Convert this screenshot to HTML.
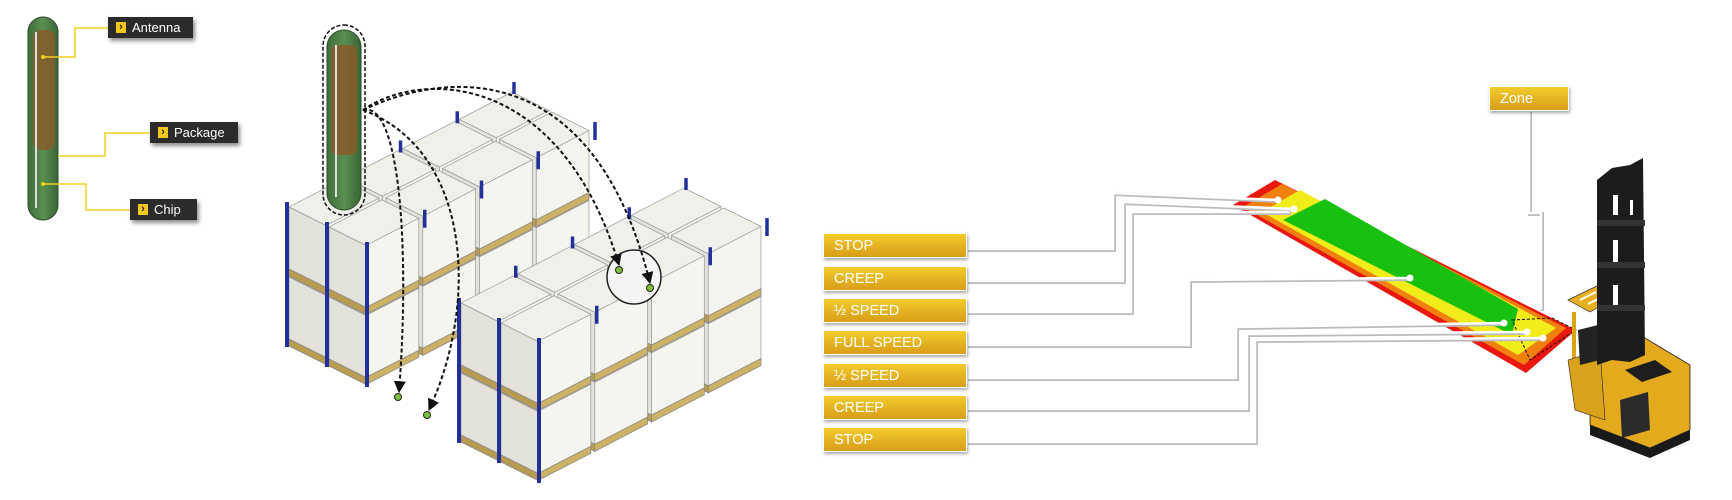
<!DOCTYPE html>
<html><head><meta charset="utf-8"><style>
body{margin:0;width:1732px;height:500px;background:#fff;overflow:hidden;font-family:"Liberation Sans",sans-serif;}
svg{position:absolute;left:0;top:0}
.dl{position:absolute;background:#2b2b2b;color:#fff;font-size:13px;height:21px;line-height:21px;box-shadow:2px 3px 4px rgba(0,0,0,.45);padding-left:24px;box-sizing:border-box}
.dl:before{content:"›";position:absolute;left:8px;top:5px;width:10px;height:11px;background:#f2c81c;color:#222;font-size:11px;line-height:10px;text-align:center;font-weight:bold}
.gl{position:absolute;left:823px;width:144px;height:25px;line-height:25px;color:#fff;font-size:14.5px;padding-left:10px;box-sizing:border-box;background:linear-gradient(#f2cc2c,#d99d1a);border:1px solid #fff;box-shadow:1px 2px 3px rgba(0,0,0,.35)}
</style></head><body>
<svg width="1732" height="500" viewBox="0 0 1732 500">
<defs>
<linearGradient id="tg" x1="0" x2="1"><stop offset="0" stop-color="#3f6e3a"/><stop offset=".5" stop-color="#5a8f52"/><stop offset="1" stop-color="#3a6535"/></linearGradient>
<marker id="ar" viewBox="0 0 10 10" refX="9" refY="5" markerWidth="6" markerHeight="6" orient="auto"><path d="M0,0 L10,5 L0,10 z" fill="#111"/></marker>
</defs>
<!-- left tube -->
<rect x="28" y="17" width="30" height="203" rx="15" fill="url(#tg)" stroke="#2e4a2a" stroke-width="1"/>
<rect x="33" y="30" width="22" height="120" rx="8" fill="#8a5a2a" opacity=".8"/>
<line x1="36" y1="32" x2="36" y2="208" stroke="#ddd" stroke-width="2"/>
<g stroke="#f2d21c" stroke-width="1.5" fill="none">
<polyline points="108,28 75,28 75,57 43,57"/>
<polyline points="150,133 105,133 105,156 58,156"/>
<polyline points="130,210 86,210 86,184 43,184"/>
</g>
<circle cx="43" cy="57" r="2" fill="#f2d21c"/><circle cx="43" cy="184" r="2" fill="#f2d21c"/>
<!-- racks -->
<g id="racks" stroke="#888" stroke-width="0.8"></g>
<!-- tube 2 -->
<rect x="323" y="25" width="42" height="190" rx="21" fill="none" stroke="#111" stroke-width="1.5" stroke-dasharray="4,2"/>
<rect x="327" y="30" width="34" height="180" rx="17" fill="url(#tg)" stroke="#2e4a2a"/>
<rect x="331" y="45" width="26" height="110" rx="6" fill="#8a5a2a" opacity=".85"/>
<line x1="336" y1="45" x2="336" y2="197" stroke="#ddd" stroke-width="2"/>
<!-- circle -->
<circle cx="634" cy="277" r="27" fill="#f4f4f4" stroke="#222" stroke-width="1.5"/>
<g fill="none" stroke="#111" stroke-width="2" stroke-dasharray="4,2.5" marker-end="url(#ar)">
<path d="M363,110 C420,70 560,70 619,265"/>
<path d="M363,110 C470,60 600,80 650,283"/>
<path d="M363,110 C400,100 410,250 399,392"/>
<path d="M363,110 C470,150 480,300 429,410"/>
</g>
<g fill="#7dc13a" stroke="#222"><circle cx="619" cy="270" r="3.5"/><circle cx="650" cy="288" r="3.5"/><circle cx="398" cy="397" r="3.5"/><circle cx="427" cy="415" r="3.5"/></g>
<!-- zone strip -->
<polygon points="1275,180 1233,205 1526,373 1576,330" fill="#e8180f"/>
<polygon points="1282,184 1243,207 1524,365 1566,328" fill="#f08010"/>
<polygon points="1300,190 1262,212 1518,355 1556,328" fill="#f2ec1a"/>
<polygon points="1325,199 1283,220 1512,335 1518,309" fill="#18c010"/>
<polygon points="1512,320 1552,318 1576,330 1530,360" fill="none" stroke="#111" stroke-dasharray="3,2"/>
<!-- connectors -->
<g fill="none" stroke="#bbb" stroke-width="4" transform="translate(1,1)">
<polyline points="967,249 1113,249 1113,193 1278,200"/><polyline points="967,281 1123,281 1123,202 1294,209"/><polyline points="967,312 1131,312 1131,212 1290,212"/><polyline points="967,345 1189,345 1189,280 1410,278"/><polyline points="967,378 1236,378 1236,327 1504,323"/><polyline points="967,409 1247,409 1247,334 1527,332"/><polyline points="967,442 1255,442 1255,340 1543,338"/><polyline points="1529,111 1529,213 1541,213 1541,310"/>
</g>
<g fill="none" stroke="#fff" stroke-width="2.5">
<polyline points="967,249 1113,249 1113,193 1278,200"/><polyline points="967,281 1123,281 1123,202 1294,209"/><polyline points="967,312 1131,312 1131,212 1290,212"/><polyline points="967,345 1189,345 1189,280 1410,278"/><polyline points="967,378 1236,378 1236,327 1504,323"/><polyline points="967,409 1247,409 1247,334 1527,332"/><polyline points="967,442 1255,442 1255,340 1543,338"/><polyline points="1529,111 1529,213 1541,213 1541,310"/>
</g>
<g fill="#fff"><circle cx="1278" cy="200" r="3.5"/><circle cx="1294" cy="209" r="3.5"/><circle cx="1410" cy="278" r="3.5"/><circle cx="1504" cy="323" r="3.5"/><circle cx="1527" cy="332" r="3.5"/><circle cx="1543" cy="338" r="3.5"/></g>
<!-- forklift -->
<polygon points="1568,300 1605,282 1625,292 1590,312" fill="#e8b020" stroke="#333" stroke-width=".7"/>
<g stroke="#fff" stroke-width="2"><line x1="1580" y1="300" x2="1596" y2="292"/><line x1="1588" y1="304" x2="1604" y2="296"/></g>
<rect x="1572" y="312" width="4" height="60" fill="#d9a418"/>
<polygon points="1590,350 1640,335 1690,365 1690,430 1650,448 1590,425" fill="#e3aa1e" stroke="#222" stroke-width=".8"/>
<polygon points="1568,360 1600,350 1605,420 1575,410" fill="#d9a21a" stroke="#222" stroke-width=".6"/>
<polygon points="1578,330 1598,325 1600,360 1580,365" fill="#222"/>
<polygon points="1625,370 1655,360 1672,372 1642,382" fill="#1e1e1e"/>
<polygon points="1620,400 1648,392 1650,430 1622,438" fill="#2a2a2a"/>
<polygon points="1590,425 1650,448 1690,430 1690,440 1650,458 1590,435" fill="#1a1a1a"/>
<polygon points="1597,180 1612,168 1630,165 1643,158 1645,355 1630,362 1612,360 1597,365" fill="#1c1c1c"/>
<g fill="#fff"><rect x="1613" y="195" width="5" height="20"/><rect x="1613" y="240" width="5" height="25"/><rect x="1613" y="285" width="5" height="20"/><rect x="1630" y="200" width="3" height="15"/></g>
<g fill="#333"><rect x="1597" y="220" width="48" height="6"/><rect x="1597" y="262" width="48" height="6"/><rect x="1597" y="305" width="48" height="6"/></g>
</svg>
<script>
(function(){
var g=document.getElementById('racks'),ns='http://www.w3.org/2000/svg';
function P(pts,fill,extra){var e=document.createElementNS(ns,'polygon');e.setAttribute('points',pts.map(function(p){return p[0].toFixed(1)+','+p[1].toFixed(1)}).join(' '));e.setAttribute('fill',fill);if(extra)for(var k in extra)e.setAttribute(k,extra[k]);g.appendChild(e);}
function L(a,b,c,w){var e=document.createElementNS(ns,'line');e.setAttribute('x1',a[0]);e.setAttribute('y1',a[1]);e.setAttribute('x2',b[0]);e.setAttribute('y2',b[1]);e.setAttribute('stroke',c);e.setAttribute('stroke-width',w);g.appendChild(e);}
function add(a,b){return[a[0]+b[0],a[1]+b[1]]}
function block(Lc,H){
 var u=[40,20],v=[56.75,-29.25];
 var lv=70;
 for(var lvl=1;lvl>=0;lvl--){
  var y0=lvl*lv;
  for(var j=3;j>=0;j--){for(var i=0;i<2;i++){
   var o=add(Lc,[i*u[0]+j*v[0]+2,i*u[1]+j*v[1]+y0]);
   var uu=[u[0]-3,u[1]-1.5],vv=[v[0]-4,v[1]+2];
   var h=lv-8;
   var a=o,b=add(o,uu),c=add(b,vv),d=add(o,vv);
   P([a,b,c,d],'#f0f0ea',{stroke:'#999','stroke-width':.7});
   P([a,b,[b[0],b[1]+h],[a[0],a[1]+h]],'#e2e2da',{stroke:'#999','stroke-width':.7});
   P([b,c,[c[0],c[1]+h],[b[0],b[1]+h]],'#f5f5f0',{stroke:'#999','stroke-width':.7});
   var pb=[b[0],b[1]+h],pc=[c[0],c[1]+h],pa=[a[0],a[1]+h];
   P([pa,pb,[pb[0],pb[1]+7],[pa[0],pa[1]+7]],'#b99c50');
   P([pb,pc,[pc[0],pc[1]+7],[pb[0],pb[1]+7]],'#cdb266');
  }}
 }
 var F=add(Lc,[80,40]);
 var ups=[Lc,add(Lc,[40,20]),F];
 ups.forEach(function(p){L([p[0],p[1]-5],[p[0],p[1]+H],'#22319a',4)});
 for(var j=1;j<=4;j++){var p=add(F,[j*56.75,-j*29.25]);L([p[0]+1,p[1]-8],[p[0]+1,p[1]+10],'#22319a',3.5);}
 for(var j=1;j<=4;j++){var p=add(Lc,[j*56.75,-j*29.25]);L([p[0],p[1]-8],[p[0],p[1]+4],'#22319a',3.5);}
}
block([287,207],140);
block([459,303],140);
})();
</script>
<div class="dl" style="left:108px;top:17px;width:85px">Antenna</div>
<div class="dl" style="left:150px;top:122px;width:88px">Package</div>
<div class="dl" style="left:130px;top:199px;width:67px">Chip</div>
<div class="gl" style="top:233px">STOP</div>
<div class="gl" style="top:266px">CREEP</div>
<div class="gl" style="top:298px">½ SPEED</div>
<div class="gl" style="top:330px">FULL SPEED</div>
<div class="gl" style="top:363px">½ SPEED</div>
<div class="gl" style="top:395px">CREEP</div>
<div class="gl" style="top:427px">STOP</div>
<div class="gl" style="left:1489px;top:86px;width:80px">Zone</div>
</body></html>
